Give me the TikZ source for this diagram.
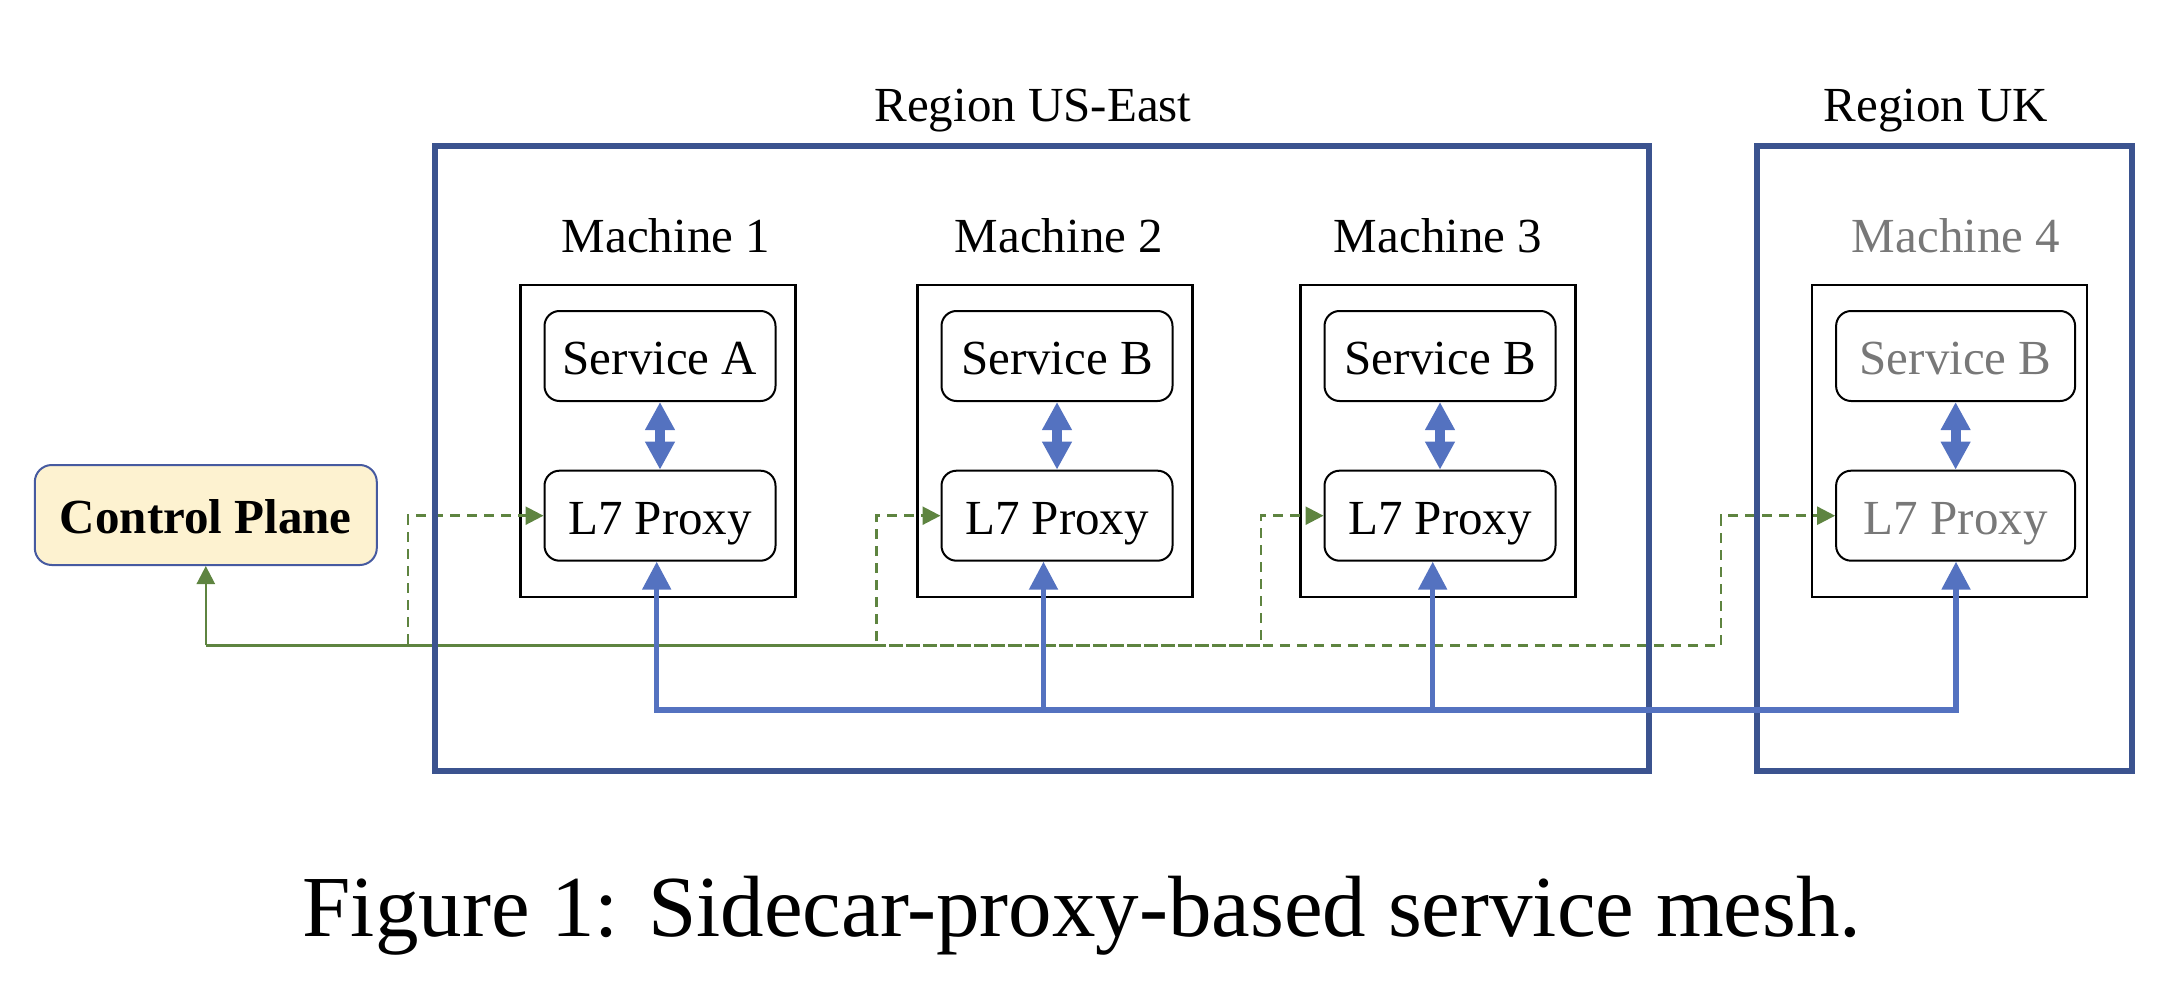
\documentclass[tikz,border=0pt]{standalone}
\usepackage{fontspec}
\setmainfont{Liberation Serif}
\usetikzlibrary{arrows.meta}
\definecolor{regblue}{RGB}{59,83,143}
\definecolor{linkblue}{RGB}{84,114,192}
\definecolor{ctlgreen}{RGB}{94,132,64}
\definecolor{cpfill}{RGB}{253,242,208}
\definecolor{cpborder}{RGB}{70,90,160}
\definecolor{dimgray}{RGB}{120,120,120}
\newcommand\lblfont{\fontsize{49}{59}\selectfont}
\newcommand\capfont{\fontsize{87}{100}\selectfont}
\begin{document}
\begin{tikzpicture}[x=1pt,y=-1pt,
  machinebox/.style={draw=black,line width=2.6pt,minimum width=275pt,minimum height=312pt,inner sep=0pt},
  part/.style={draw=black,line width=2pt,rounded corners=15pt,minimum width=231pt,minimum height=90pt,inner sep=0pt,font=\lblfont,text height=37pt,text depth=0pt},
  regionbox/.style={draw=regblue,line width=6.3pt,inner sep=0pt},
  lbl/.style={font=\lblfont,anchor=base,inner sep=0pt},
  dim/.style={text=dimgray},
  ctl/.style={draw=ctlgreen,line width=2.5pt},
  ctldash/.style={ctl,dash pattern=on 10pt off 7pt},
  ctltip/.style={-{Triangle[length=18pt,width=18pt]}},
  meshlink/.style={draw=linkblue,line width=5.3pt,line join=miter},
  bustip/.style={-{Triangle[length=28pt,width=28pt]}},
  sidecar/.style={draw=linkblue,line width=10pt,{Triangle[length=28pt,width=28pt]}-{Triangle[length=28pt,width=28pt]}},
]
\useasboundingbox (0,0) rectangle (2170,984);

% region labels
\node[lbl] (lus) at (1033,121.7) {Region US-East};
\node[lbl] (luk) at (1936,121.7) {Region UK};

% machines
\node[machinebox] (m1) at (658,441) {};
\node[machinebox] (m2) at (1055,441) {};
\node[machinebox] (m3) at (1438,441) {};
\node[machinebox] (m4) at (1949.5,441) {};

\node[lbl] (lm1) at (666,252.7) {Machine 1};
\node[lbl] (lm2) at (1059,252.7) {Machine 2};
\node[lbl] (lm3) at (1438,252.7) {Machine 3};
\node[lbl,dim] (lm4) at (1956,252.7) {Machine 4};

% services and proxies
\node[part] (s1) at (660,356) {Service A};
\node[part] (s2) at (1057,356) {Service B};
\node[part] (s3) at (1440,356) {Service B};
\node[part,dim,minimum width=239pt] (s4) at (1955.6,356) {Service B};

\node[part] (p1) at (660,515.7) {L7 Proxy};
\node[part] (p2) at (1057,515.7) {L7 Proxy};
\node[part] (p3) at (1440,515.7) {L7 Proxy};
\node[part,dim,minimum width=239pt] (p4) at (1955.6,515.7) {L7 Proxy};

% control plane
\node[draw=cpborder,fill=cpfill,line width=2pt,rounded corners=17pt,minimum width=342pt,minimum height=100pt,inner sep=0pt,font=\lblfont\bfseries,text height=37pt,text depth=0pt] (cp) at (205.8,515) {Control Plane};

% sidecar links
\foreach \i in {1,2,3,4} \draw[sidecar] (s\i.south) -- (p\i.north);

% control-plane links
\coordinate (g0) at (205.8,645.3);
\foreach \x/\i/\ph in {408/1/0,876.7/2/5,1261/3/10,1721/4/14}
  \draw[ctldash,ctltip,dash phase=\ph pt] (g0) -- (\x,645.3) |- (p\i.west);
\draw[ctl,ctltip] (g0) -- (cp.south);

% regions
\node[regionbox,minimum width=1214pt,minimum height=625.3pt] (useast) at (1042,458.35) {};
\node[regionbox,minimum width=375.3pt,minimum height=625.3pt] (uk) at (1944.35,458.35) {};

% mesh bus
\coordinate (b1) at (656.7,710);
\coordinate (b2) at (1043.5,710);
\coordinate (b3) at (1432.7,710);
\coordinate (b4) at (1956,710);
\draw[meshlink,{Triangle[length=28pt,width=28pt]}-{Triangle[length=28pt,width=28pt]}] (b1 |- p1.south) -- (b1) -- (b4) -- (b4 |- p4.south);
\draw[meshlink,bustip] (b2) -- (b2 |- p2.south);
\draw[meshlink,bustip] (b3) -- (b3 |- p3.south);

% caption
\node[anchor=base,font=\capfont,inner sep=0pt] (cap) at (1082,936) {Figure 1: Sidecar-proxy-based service mesh.};
\end{tikzpicture}
\end{document}
